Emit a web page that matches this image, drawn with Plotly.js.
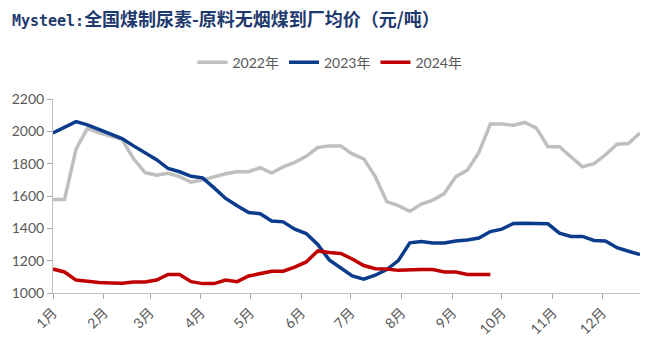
<!DOCTYPE html>
<html>
<head>
<meta charset="utf-8">
<script src="https://cdn.plot.ly/plotly-3.0.1.min.js"></script>
<style>html,body{margin:0;padding:0;background:#fff;}#chart{width:660px;height:352px;}</style>
</head>
<body>
<div id="chart"></div>
<script>
// Weekly observation dates (plotted on a common calendar year)
var weekDates = ["2023-01-01","2023-01-08","2023-01-15","2023-01-22","2023-01-29","2023-02-05","2023-02-12","2023-02-19","2023-02-26","2023-03-05","2023-03-12","2023-03-19","2023-03-26","2023-04-02","2023-04-09","2023-04-16","2023-04-23","2023-04-30","2023-05-07","2023-05-14","2023-05-21","2023-05-28","2023-06-04","2023-06-11","2023-06-18","2023-06-25","2023-07-02","2023-07-09","2023-07-16","2023-07-23","2023-07-30","2023-08-06","2023-08-13","2023-08-20","2023-08-27","2023-09-03","2023-09-10","2023-09-17","2023-09-24","2023-10-01","2023-10-08","2023-10-15","2023-10-22","2023-10-29","2023-11-05","2023-11-12","2023-11-19","2023-11-26","2023-12-03","2023-12-10","2023-12-17","2023-12-24"];

var seriesNames = ["2022年","2023年","2024年"];

var values2022 = [1578,1578,1890,2020,1990,1970,1950,1830,1745,1728,1740,1720,1685,1700,1720,1738,1750,1750,1775,1742,1780,1808,1845,1900,1910,1910,1860,1830,1720,1565,1540,1505,1550,1575,1615,1720,1760,1870,2045,2045,2038,2055,2020,1905,1905,1840,1780,1800,1855,1920,1925,1990];

var values2023 = [1990,2025,2060,2040,2010,1980,1955,1910,1870,1825,1770,1750,1722,1712,1650,1585,1540,1498,1490,1445,1440,1395,1368,1300,1205,1155,1105,1085,1110,1145,1200,1310,1318,1310,1310,1322,1328,1340,1380,1395,1430,1432,1430,1428,1370,1350,1350,1325,1322,1280,1258,1238];

var values2024 = [1148,1130,1080,1070,1065,1062,1060,1068,1068,1080,1115,1115,1070,1058,1058,1080,1070,1105,1120,1135,1135,1160,1192,1260,1250,1245,1210,1170,1150,1148,1140,1145,1145,1145,1130,1130,1115,1115,1115];

var monthTickVals = ["2023-01-01","2023-02-01","2023-03-01","2023-04-01","2023-05-01","2023-06-01","2023-07-01","2023-08-01","2023-09-01","2023-10-01","2023-11-01","2023-12-01"];
var monthTickText = ["1月","2月","3月","4月","5月","6月","7月","8月","9月","10月","11月","12月"];

var colors = ["#BFBFBF","#0B3C8C","#C00000"];
var allValues = [values2022, values2023, values2024];

var traces = allValues.map(function(v, i){
  return {
    type: "scatter",
    mode: "lines",
    name: seriesNames[i],
    x: weekDates.slice(0, v.length),
    y: v,
    line: {color: colors[i], width: 3.5}
  };
});

var baseFont = "Lato, 'Noto Sans CJK SC', sans-serif";

var layout = {
  width: 660,
  height: 352,
  margin: {l: 53, r: 20, t: 99, b: 59},
  paper_bgcolor: "#ffffff",
  plot_bgcolor: "#ffffff",
  font: {family: baseFont, color: "#595959", size: 13},
  title: {
    text: "<b><span style=\"font-family:'DejaVu Sans Mono',monospace;font-size:15px\">Mysteel:</span>全国煤制尿素-原料无烟煤到厂均价（元/吨）</b>",
    x: 0.018, xanchor: "left", xref: "container",
    y: 0.945, yanchor: "middle", yref: "container",
    font: {family: "'Noto Sans CJK SC', sans-serif", size: 18, color: "#1F3A6E"}
  },
  showlegend: true,
  legend: {
    orientation: "h",
    x: 0.5, xanchor: "center", xref: "container",
    y: 0.822, yanchor: "middle", yref: "container",
    font: {size: 14, color: "#595959", family: baseFont},
    itemwidth: 30,
    traceorder: "normal"
  },
  xaxis: {
    type: "date",
    range: ["2023-01-01", "2023-12-24"],
    tickmode: "array",
    tickvals: monthTickVals,
    ticktext: monthTickText,
    tickangle: -45,
    ticks: "outside",
    ticklen: 5,
    tickcolor: "#A6A6A6",
    showline: true,
    linecolor: "#BFBFBF",
    linewidth: 1,
    showgrid: false,
    zeroline: false,
    tickfont: {size: 14, color: "#595959"}
  },
  yaxis: {
    range: [1000, 2200],
    dtick: 200,
    tick0: 1000,
    ticks: "outside",
    ticklen: 5,
    tickcolor: "#A6A6A6",
    showline: true,
    linecolor: "#BFBFBF",
    linewidth: 1,
    showgrid: false,
    zeroline: false,
    tickfont: {size: 14, color: "#595959"}
  }
};

Plotly.newPlot("chart", traces, layout, {displayModeBar: false, staticPlot: true});
</script>
</body>
</html>
